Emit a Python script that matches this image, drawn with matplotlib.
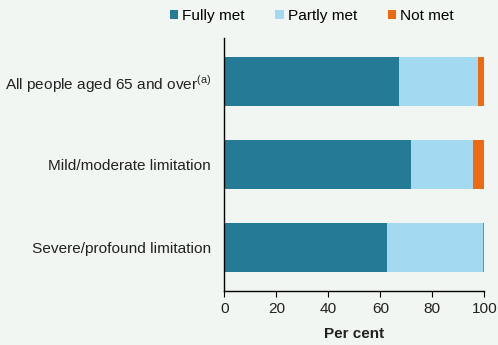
import matplotlib
matplotlib.use('Agg')
import matplotlib.pyplot as plt
from matplotlib.patches import Patch

plt.rcParams['font.family'] = ['Liberation Sans', 'DejaVu Sans']
plt.rcParams['mathtext.fontset'] = 'custom'
plt.rcParams['mathtext.rm'] = 'Liberation Sans'

# data (per cent)
groups = ['All people aged 65 and over$^{\\mathrm{(a)}}$',
          'Mild/moderate limitation',
          'Severe/profound limitation']
fully_met = [67.3, 71.9, 62.5]
partly_met = [30.3, 23.8, 37.1]
not_met = [2.4, 4.3, 0.4]

series_names = ['Fully met', 'Partly met', 'Not met']
colors = ['#257A96', '#A3DAF2', '#EC6A12']
bg = '#F1F6F2'

fig = plt.figure(figsize=(4.98, 3.45), dpi=100, facecolor=bg)
ax = fig.add_axes([0.4505, 0.1565, 0.522, 0.7334], facecolor=bg)

y = range(len(groups))
left = [0, 0, 0]
for vals, c in zip([fully_met, partly_met, not_met], colors):
    ax.barh(y, vals, left=left, height=0.59, color=c, linewidth=0)
    left = [l + v for l, v in zip(left, vals)]

ax.set_ylim(2.524, -0.524)
ax.set_xlim(0, 100)
ax.set_xticks([0, 20, 40, 60, 80, 100])
ax.set_yticks(list(y))
ax.set_yticklabels(groups)
ax.tick_params(axis='y', length=0, pad=9.5, labelsize=11.1, colors='#222222')
ax.tick_params(axis='x', length=4, width=0.8, pad=4, labelsize=11.1, colors='black',
               labelcolor='#222222')
for s in ['top', 'right']:
    ax.spines[s].set_visible(False)
for s in ['left', 'bottom']:
    ax.spines[s].set_color('black')
    ax.spines[s].set_linewidth(1.0)
ax.set_xlabel('Per cent', fontweight='bold', fontsize=11, labelpad=8, color='#222222')

handles = [Patch(facecolor=c, edgecolor='none', label=n) for n, c in zip(series_names, colors)]
fig.legend(handles=handles, loc='center', bbox_to_anchor=(0.626, 0.953), ncol=3,
           frameon=False, handlelength=0.55, handleheight=0.55, handletextpad=0.25,
           columnspacing=2.0, fontsize=11.1)

fig.savefig('out.png', dpi=100, facecolor=bg)
